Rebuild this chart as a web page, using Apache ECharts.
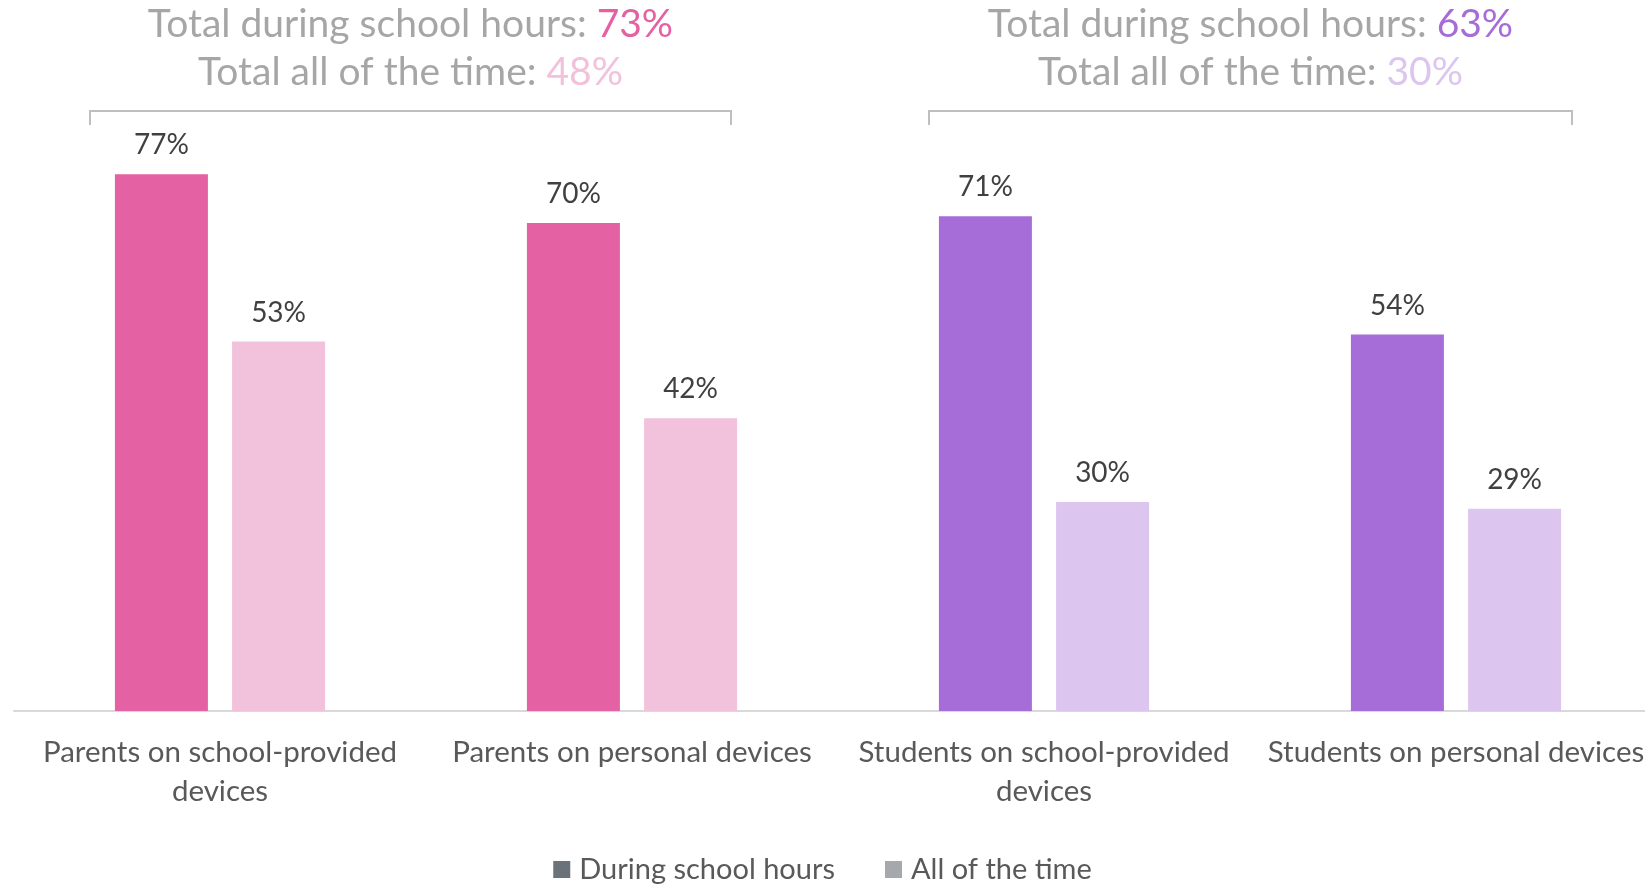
<!DOCTYPE html>
<html>
<head>
<meta charset="utf-8">
<title>Device monitoring</title>
<script src="https://cdn.jsdelivr.net/npm/echarts@6/dist/echarts.min.js"></script>
<style>
  html, body { margin: 0; padding: 0; background: #ffffff; }
  #chart { width: 1645px; height: 885px; }
</style>
</head>
<body>
<div id="chart"></div>
<script>
// Categories along the x axis
const categories = [
  'Parents on school-provided\ndevices',
  'Parents on personal devices',
  'Students on school-provided\ndevices',
  'Students on personal devices'
];
// Share of respondents (%)
const duringSchoolHours = [77, 70, 71, 54];
const allOfTheTime = [53, 42, 30, 29];
// Group totals shown above each pair of categories
const groupNames = ['Parents', 'Students'];
const groupTotalsSchool = [73, 63];
const groupTotalsAll = [48, 30];

const FONT = 'Lato, "Noto Sans", sans-serif';
const pinkDark = '#E462A3', pinkLight = '#F2C1DB';
const purpleDark = '#A66DD8', purpleLight = '#DCC5EF';
const darkByCat = [pinkDark, pinkDark, purpleDark, purpleDark];
const lightByCat = [pinkLight, pinkLight, purpleLight, purpleLight];

const chart = echarts.init(document.getElementById('chart'), null, { renderer: 'canvas' });

const labelStyle = {
  show: true,
  position: 'top',
  distance: 15,
  formatter: '{c}%',
  fontFamily: FONT,
  fontSize: 28,
  color: '#404040'
};

chart.setOption({
  backgroundColor: '#ffffff',
  animation: false,
  // the plot runs slightly past the right edge of the canvas
  grid: {
    left: 14, right: -17, top: 14, bottom: 174,
    containLabel: false,
    outerBoundsMode: 'none'
  },
  legend: {
    left: 'center',
    top: 850,
    itemWidth: 17,
    itemHeight: 17,
    itemGap: 50,
    icon: 'rect',
    textStyle: { fontFamily: FONT, fontSize: 29, color: '#595959', padding: [0, 0, 0, 4] },
    data: ['During school hours', 'All of the time']
  },
  xAxis: {
    type: 'category',
    data: categories,
    axisLine: { lineStyle: { color: '#D9D9D9', width: 2 } },
    axisTick: { show: false },
    axisLabel: {
      interval: 0,
      margin: 22,
      fontFamily: FONT,
      fontSize: 29.5,
      lineHeight: 39,
      color: '#595959',
      align: 'center'
    }
  },
  yAxis: { type: 'value', min: 0, max: 100, show: false, splitLine: { show: false } },
  series: [
    {
      name: 'During school hours',
      type: 'bar',
      barWidth: 93,
      barGap: '26%',
      itemStyle: { color: '#6B727A' },
      label: labelStyle,
      data: duringSchoolHours.map((v, i) => ({ value: v, itemStyle: { color: darkByCat[i] } }))
    },
    {
      name: 'All of the time',
      type: 'bar',
      barWidth: 93,
      itemStyle: { color: '#A5A9AE' },
      label: labelStyle,
      data: allOfTheTime.map((v, i) => ({ value: v, itemStyle: { color: lightByCat[i] } }))
    }
  ]
});

// Brackets and totals above each group of two categories
function drawGroups() {
  const centers = categories.map((c, i) => chart.convertToPixel({ xAxisIndex: 0 }, i));
  const groups = [
    { from: 0, to: 1, padL: 130, padR: 99, dark: pinkDark, light: pinkLight },
    { from: 2, to: 3, padL: 115, padR: 116, dark: purpleDark, light: purpleLight }
  ];
  const elements = [];
  groups.forEach((g, k) => {
    const x0 = centers[g.from] - g.padL;
    const x1 = centers[g.to] + g.padR;
    const mid = (x0 + x1) / 2;
    elements.push({
      type: 'polyline',
      shape: { points: [[x0, 125], [x0, 111], [x1, 111], [x1, 125]] },
      style: { stroke: '#BFBFBF', lineWidth: 2, fill: null }
    });
    elements.push({
      type: 'text',
      x: mid, y: 24,
      style: {
        text: '{a|Total during school hours: }{b|' + groupTotalsSchool[k] + '%}',
        align: 'center', verticalAlign: 'middle',
        rich: {
          a: { fontFamily: FONT, fontSize: 39, fill: '#A6A6A6' },
          b: { fontFamily: FONT, fontSize: 39, fill: g.dark }
        }
      }
    });
    elements.push({
      type: 'text',
      x: mid, y: 72,
      style: {
        text: '{a|Total all of the time: }{b|' + groupTotalsAll[k] + '%}',
        align: 'center', verticalAlign: 'middle',
        rich: {
          a: { fontFamily: FONT, fontSize: 39, fill: '#A6A6A6' },
          b: { fontFamily: FONT, fontSize: 39, fill: g.light }
        }
      }
    });
  });
  chart.setOption({ graphic: { elements: elements } });
}
drawGroups();
</script>
</body>
</html>
